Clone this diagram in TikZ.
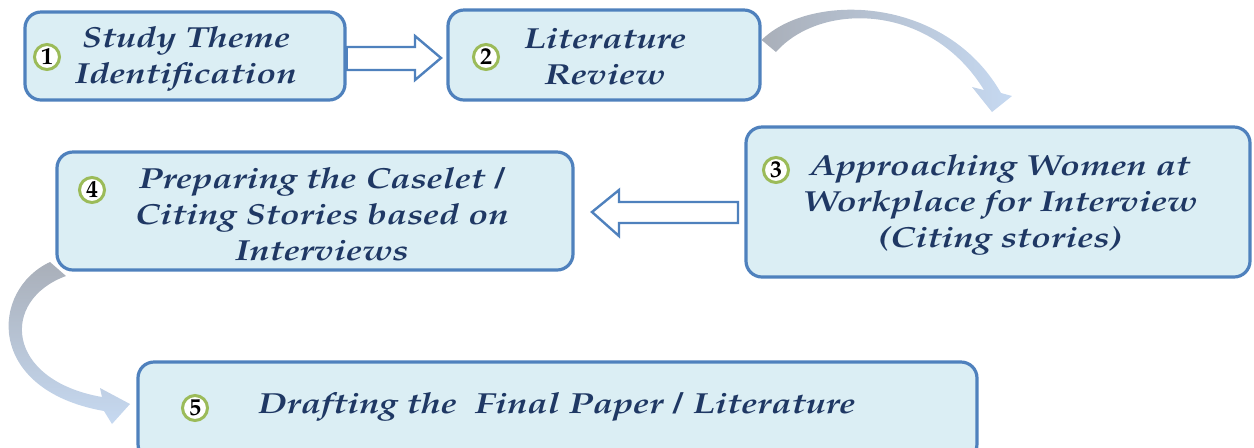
\documentclass[tikz,border=0pt]{standalone}
\usepackage[T1]{fontenc}
\usepackage{tikz}
\usetikzlibrary{positioning,calc,arrows.meta}
\definecolor{boxfill}{HTML}{DBEEF4}
\definecolor{boxline}{HTML}{4F81BD}
\definecolor{ringline}{HTML}{9BBB59}
\definecolor{txtnavy}{HTML}{1F3864}
\definecolor{arrgray}{HTML}{A9AFB9}
\definecolor{arrblue}{HTML}{C6D9F1}
\tikzset{
  stagebox/.style={draw=boxline,line width=1.6pt,fill=boxfill,rounded corners=8pt},
  stagetext/.style={align=center,text=txtnavy,xscale=1.25,
    font=\fontfamily{ppl}\fontsize{14.5}{18}\selectfont\bfseries\itshape},
  ringnum/.style={circle,draw=ringline,line width=1.5pt,fill=white,inner sep=0pt,
    minimum size=12.5pt,font=\fontfamily{ppl}\fontsize{12}{12}\selectfont\bfseries},
  blockarr/.style={draw=boxline,line width=1.2pt,fill=white,line join=miter}
}

\begin{document}
\begin{tikzpicture}[x=0.5pt,y=-0.5pt]
\useasboundingbox (0,0) rectangle (1254,447);
\clip (0,0) rectangle (1254,447);
% boxes
\node[stagebox,minimum width=160pt,minimum height=44pt] (s1) at (185,56) {};
\node[stagebox,minimum width=156pt,minimum height=45pt] (s2) at (604,55) {};
\node[stagebox,minimum width=252pt,minimum height=75pt] (s3) at (998,202) {};
\node[stagebox,minimum width=258pt,minimum height=59pt] (s4) at (315,211) {};
\node[stagebox,minimum width=419.5pt,minimum height=49pt] (s5) at (557.5,411) {};
% labels
\node[stagetext] (t1) at (186,59) {Study Theme\\Identification};
\node[stagetext] (t2) at (605,56) {Literature\\Review};
\node[stagetext] (t3) at (1000,205) {Approaching Women at\\Workplace for Interview\\(Citing stories)};
\node[stagetext] (t4) at (322,214) {Preparing the Caselet /\\Citing Stories based on\\Interviews};
\node[stagetext] (t5) at (557,407) {Drafting the\ \ Final Paper / Literature};
% numbers
\node[ringnum] (n1) at (47,57) {1};
\node[ringnum] (n2) at (486,57) {2};
\node[ringnum] (n3) at (776,170) {3};
\node[ringnum] (n4) at (92,190) {4};
\node[ringnum] (n5) at (195,408) {5};
% block arrows
\draw[blockarr] (s1.east |- 0,47) -- (415,47) -- (415,36) -- (441,58) -- (415,80) -- (415,70) -- (s1.east |- 0,70) -- cycle;
\draw[blockarr] (738,202) -- (619,202) -- (619,190) -- (592,212) -- (619,236) -- (619,223) -- (738,223) -- cycle;
% curved arrows
\shade[left color=arrgray,middle color=arrblue,right color=arrblue]
  (s2.east |- 0,40) .. controls (810,-8) and (945,-5) .. (1001,93) -- (1012,96) -- (992,112)
  -- (972,87) -- (984,90) .. controls (930,2) and (820,2) .. (776,52) -- cycle;
\shade[top color=arrgray,bottom color=arrblue]
  (50,262) .. controls (-10,290) and (-15,390) .. (104,411) -- (112,424) -- (130,404)
  -- (100,388) -- (102,397) .. controls (5,380) and (0,300) .. (66,276) -- cycle;
\end{tikzpicture}
\end{document}
